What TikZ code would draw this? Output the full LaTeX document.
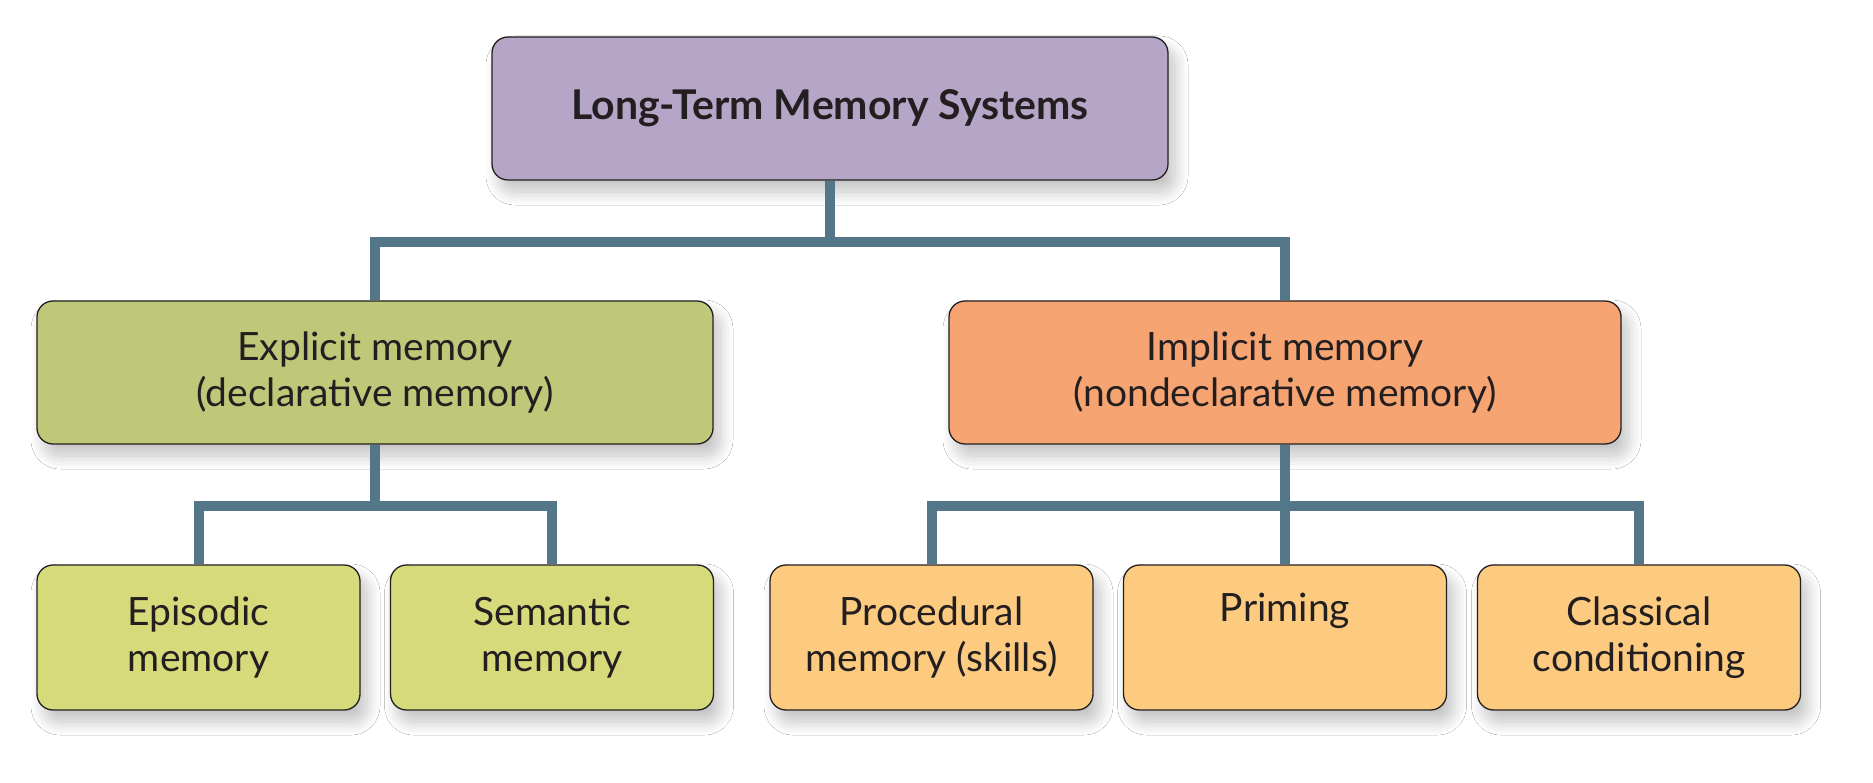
\documentclass[tikz,border=0pt]{standalone}
\usepackage{fontspec}
\setmainfont{Lato}
\usetikzlibrary{shadows.blur}
\definecolor{conn}{HTML}{537689}
\definecolor{ink}{HTML}{231F20}
\definecolor{topc}{HTML}{B5A6C8}
\definecolor{expc}{HTML}{BFC879}
\definecolor{expsub}{HTML}{D6DA7A}
\definecolor{impc}{HTML}{F6A472}
\definecolor{impsub}{HTML}{FDCB80}
\tikzset{
  box/.style={draw=ink, line width=1.3pt, rounded corners=16pt, align=center,
    text=ink, font=\fontsize{39}{46}\selectfont, inner sep=0pt,
    blur shadow={shadow xshift=7pt, shadow yshift=-12pt, shadow blur radius=13pt, shadow blur steps=16, shadow opacity=24}},
  bigbox/.style={box, minimum width=676pt, minimum height=143pt},
  smallbox/.style={box, minimum width=323pt, minimum height=145pt},
  link/.style={draw=conn, line width=10pt}
}
\begin{document}
\begin{tikzpicture}[x=1pt,y=-1pt]
\useasboundingbox[fill=white] (0,0) rectangle (1873,783);
\node[bigbox, fill=topc, font=\fontsize{41}{46}\selectfont\bfseries] (top) at (830,108.5) {Long-Term Memory Systems};
\node[bigbox, fill=expc] (exp) at (375,372.5) {Explicit memory\\(declarative memory)};
\node[bigbox, fill=impc, minimum width=672pt] (imp) at (1285,372.5) {Implicit memory\\(nondeclarative memory)};
\node[smallbox, fill=expsub] (epi) at (198.5,637.5) {Episodic\\memory};
\node[smallbox, fill=expsub] (sem) at (552,637.5) {Semantic\\memory};
\node[smallbox, fill=impsub] (pro) at (931.5,637.5) {Procedural\\memory (skills)};
\node[smallbox, fill=impsub] (pri) at (1285,637.5) {Priming\\\strut};
\node[smallbox, fill=impsub] (cla) at (1639,637.5) {Classical\\conditioning};
\coordinate (b1) at (830,242);
\coordinate (b2) at (375,506);
\coordinate (b3) at (1285,506);
\draw[link] (top.south) -- (b1);
\draw[link] (b1) -| (exp.north);
\draw[link] (b1) -| (imp.north);
\draw[link] (exp.south) -- (b2);
\draw[link] (b2) -| (epi.north);
\draw[link] (b2) -| (sem.north);
\draw[link] (imp.south) -- (b3);
\draw[link] (b3) -| (pro.north);
\draw[link] (b3) -| (cla.north);
\draw[link] (b3) -- (pri.north);
\end{tikzpicture}
\end{document}
